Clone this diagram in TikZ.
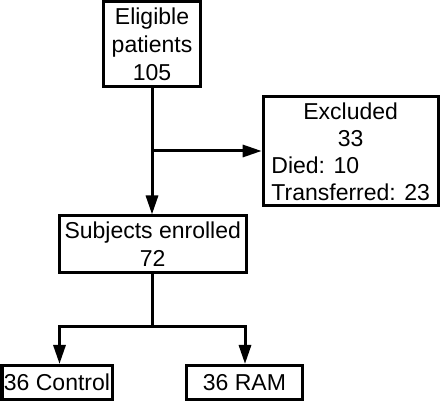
\documentclass[tikz,border=0pt]{standalone}
\usepackage{fontspec}
\setmainfont{Liberation Sans}
\usetikzlibrary{arrows.meta}
\newlength{\exclw}
\AtBeginDocument{\settowidth{\exclw}{\fontsize{23}{27}\selectfont Transferred: 23}}
\begin{document}
\begin{tikzpicture}[x=1pt,y=-1pt,
  box/.style={draw,line width=3pt,inner sep=0pt,align=center,font=\fontsize{23}{28}\selectfont},
  conn/.style={line width=3pt},
  arr/.style={line width=3pt,-{Triangle[length=19pt,width=12pt]}}]
\useasboundingbox (0,0) rectangle (440,401);
\node[box,minimum width=97pt,minimum height=85.5pt] (elig) at (152,44.25) {Eligible\\patients\\105};
\node[box,minimum width=175pt,minimum height=109pt,align=left,
      font=\fontsize{23}{27}\selectfont] (excl) at (350.7,151.5)
  {\makebox[\exclw][c]{Excluded}\\\makebox[\exclw][c]{33}\\Died: 10\\Transferred: 23};
\node[box,minimum width=186.5pt,minimum height=57pt] (subj) at (152.75,244.5) {Subjects enrolled\\72};
\node[box,minimum width=110pt,minimum height=34pt] (ctrl) at (57,382.5) {36 Control};
\node[box,minimum width=116pt,minimum height=34pt] (ram) at (244.4,382.5) {36 RAM};
\coordinate (b1) at (152,151);
\coordinate (b2) at (152,327);
\coordinate (cL) at (59.5,327);
\coordinate (cR) at (245,327);
\draw[arr] (elig.south -| b1) -- (b1 |- subj.north);
\draw[arr] (b1) -- (b1 -| excl.west);
\draw[conn] (b2 |- subj.south) -- (b2);
\draw[arr] (b2) -- (cL) -- (cL |- ctrl.north);
\draw[arr] (b2) -- (cR) -- (cR |- ram.north);
\end{tikzpicture}
\end{document}
